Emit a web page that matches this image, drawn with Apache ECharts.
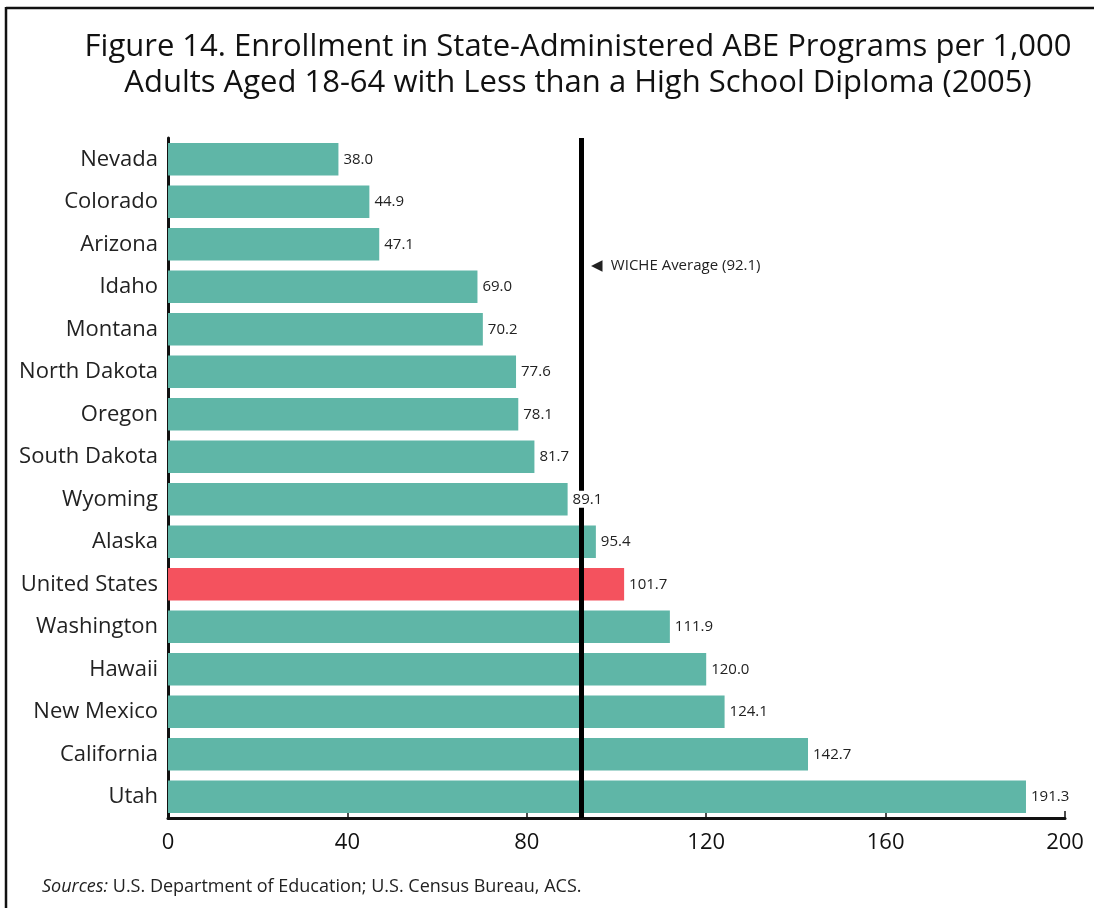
<!DOCTYPE html>
<html>
<head>
<meta charset="utf-8">
<script src="https://cdn.jsdelivr.net/npm/echarts@6/dist/echarts.min.js"></script>
<style>
html,body{margin:0;padding:0;background:#fff;overflow:hidden;}
#chart{width:1094px;height:908px;}
</style>
</head>
<body>
<div id="chart"></div>
<script>
var states = ['Nevada','Colorado','Arizona','Idaho','Montana','North Dakota','Oregon','South Dakota','Wyoming','Alaska','United States','Washington','Hawaii','New Mexico','California','Utah'];
var values = [38.0,44.9,47.1,69.0,70.2,77.6,78.1,81.7,89.1,95.4,101.7,111.9,120.0,124.1,142.7,191.3];
var highlight = 'United States';
var wicheAverage = 92.1;
var xTicks = [0,40,80,120,160,200];
var titleLines = ['Figure 14. Enrollment in State-Administered ABE Programs per 1,000','Adults Aged 18-64 with Less than a High School Diploma (2005)'];

var FONT = '"Open Sans", "Noto Sans", sans-serif';
var TEAL = '#5fb6a7';
var RED = '#f4525e';

var chart = echarts.init(document.getElementById('chart'), null, {renderer:'canvas'});

var barData = values.map(function(v,i){
  return {value:v, itemStyle:{color: states[i]===highlight ? RED : TEAL}};
});

var option = {
  animation:false,
  backgroundColor:'#fff',
  title:{
    text: titleLines.join('\n'),
    left: 573, top: 24, textAlign:'center',
    textStyle:{fontFamily:FONT, fontSize:31, fontWeight:'normal', color:'#111', lineHeight:36}
  },
  grid:{left:168, right:29, top:138, bottom:90, containLabel:false},
  xAxis:{
    type:'value', min:0, max:200, interval:40,
    axisLine:{show:true, lineStyle:{color:'#111', width:3}},
    axisTick:{show:true, inside:true, length:7, lineStyle:{color:'#111', width:1.5}},
    splitLine:{show:false},
    axisLabel:{fontFamily:FONT, fontSize:22, color:'#111', margin:14,
      formatter:function(v){ return xTicks.indexOf(v)>=0 ? String(v) : ''; }}
  },
  yAxis:{
    type:'category', data:states, inverse:true,
    axisLine:{show:true, lineStyle:{color:'#111', width:3}},
    axisTick:{show:false},
    axisLabel:{fontFamily:FONT, fontSize:22, color:'#222', margin:10}
  },
  series:[
    {
      type:'bar', data:barData, barCategoryGap:'23%', z:2,
      label:{show:false}
    },
    {
      type:'bar', data:values.map(function(v){return {value:v, itemStyle:{color:'rgba(0,0,0,0)'}};}), barGap:'-100%', barCategoryGap:'23%', z:3,
      silent:true,
      markLine:{
        silent:true, symbol:['none','none'],
        lineStyle:{color:'#000', width:5, type:'solid'},
        label:{show:false},
        data:[{xAxis:wicheAverage}]
      }
    },
    {
      type:'bar', data:values.map(function(v){return {value:v, itemStyle:{color:'rgba(0,0,0,0)'}};}), barGap:'-100%', barCategoryGap:'23%', z:5,
      silent:true,
      label:{show:true, position:'right', distance:4, fontFamily:FONT, fontSize:15, color:'#222',
        backgroundColor:'#fff', padding:[1,1,1,1],
        formatter:function(p){ return p.value.toFixed(1); }}
    }
  ]
};
chart.setOption(option);

var iArizona = states.indexOf('Arizona');
var p1 = chart.convertToPixel({gridIndex:0}, [wicheAverage, iArizona]);
var p2 = chart.convertToPixel({gridIndex:0}, [wicheAverage, iArizona+1]);
var labelY = (p1[1]+p2[1])/2;

chart.setOption({
  graphic:[
    {type:'line', shape:{x1:6, y1:8, x2:1094, y2:8}, style:{stroke:'#111', lineWidth:2.5}, silent:true, z:0},
    {type:'line', shape:{x1:6, y1:7, x2:6, y2:908}, style:{stroke:'#111', lineWidth:2.5}, silent:true, z:0},
    {type:'text', x:p1[0]+10, y:labelY, style:{text:'\u25C0  WICHE Average (' + wicheAverage.toFixed(1) + ')', fontFamily:FONT, fontSize:15, fill:'#222', textVerticalAlign:'middle'}, z:10},
    {type:'text', x:42, y:887, style:{text:'{i|Sources:} U.S. Department of Education; U.S. Census Bureau, ACS.', fontFamily:FONT, fontSize:18, fill:'#222', textVerticalAlign:'middle', rich:{i:{fontStyle:'italic', fontFamily:FONT, fontSize:18, fill:'#222'}}}, z:10}
  ]
});
</script>
</body>
</html>
